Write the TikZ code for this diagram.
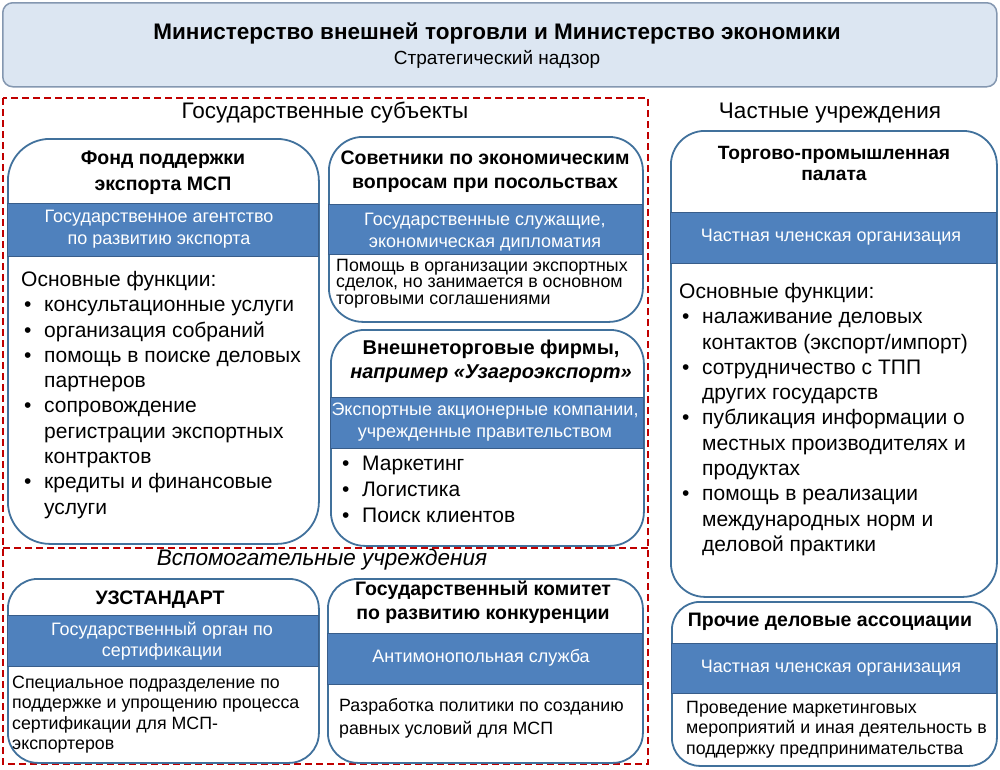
\documentclass[tikz,border=0pt]{standalone}
\usepackage{fontspec}
\setmainfont{Liberation Sans}
\newcommand{\fsz}[2]{\fontsize{#1}{#2}\selectfont}
\newcommand{\bul}{\makebox[20pt][l]{\textbullet}}
\newcommand{\ind}{\hspace*{20pt}}
\definecolor{topfill}{HTML}{DCE6F2}
\definecolor{topdraw}{HTML}{8497B0}
\definecolor{boxc}{HTML}{41719C}
\definecolor{bandc}{HTML}{4F81BD}
\definecolor{bandb}{HTML}{385D8A}
\definecolor{redd}{HTML}{C00000}
\tikzset{
  box/.style={draw=boxc, line width=1.8pt, rounded corners=#1, fill=white, anchor=north west, inner sep=0pt},
  box/.default=36pt,
  band/.style={draw=bandb, line width=1.2pt, fill=bandc, anchor=north west, inner sep=0pt},
  ttl/.style={font=\bfseries\fsz{19.5}{24}, align=center, inner sep=0pt},
  bandtxt/.style={text=white, font=\fsz{18}{21.5}, align=center, inner sep=0pt},
  body/.style={font=\fsz{21}{25.3}, align=left, anchor=north west, inner sep=0pt},
  small/.style={font=\fsz{17.8}{16.5}, align=left, anchor=north west, inner sep=0pt},
  mid/.style={font=\fsz{17.8}{20.2}, align=left, anchor=north west, inner sep=0pt},
  hdr/.style={font=\fsz{22.5}{26}, inner sep=0pt},
  reddash/.style={draw=redd, line width=2pt, dash pattern=on 7pt off 4pt}
}
\begin{document}
\begin{tikzpicture}[x=1pt,y=-1pt]
\useasboundingbox (0,0) rectangle (1000,769);
% top box
\node[draw=topdraw, fill=topfill, line width=1.5pt, rounded corners=10pt, anchor=north west, minimum width=994, minimum height=84, inner sep=0pt] (top) at (2,2) {};
\node[font=\bfseries\fsz{22.5}{26}, inner sep=0pt] (toptitle) at (497,33) {Министерство внешней торговли и Министерство экономики};
\node[font=\fsz{19}{22}, inner sep=0pt] (topsub) at (497,59) {Стратегический надзор};
% frames
\draw[reddash] (3,98) rectangle (648,764);
\draw[reddash] (3,548) -- (648,548);
\node[hdr] (govlbl) at (325,113) {Государственные субъекты};
\node[hdr] (privlbl) at (830,113) {Частные учреждения};
\node[hdr, font=\itshape\fsz{22.5}{26}] (auxlbl) at (322,560) {Вспомогательные учреждения};
% Fond
\node[box=42pt, minimum width=311, minimum height=405] (fond) at (7,138) {};
\node[band, minimum width=311, minimum height=53] (fondband) at (7,203) {};
\node[ttl, font=\bfseries\fsz{19.5}{26}] (fondttl) at (163,173) {Фонд поддержки\\экспорта МСП};
\node[bandtxt] (fondbt) at (159,229) {Государственное агентство\\по развитию экспорта};
\node[body] (fondbody) at (21,271) {Основные функции:\\
\hspace*{3pt}\bul консультационные услуги\\
\hspace*{3pt}\bul организация собраний\\
\hspace*{3pt}\bul помощь в поиске деловых\\
\hspace*{3pt}\ind партнеров\\
\hspace*{3pt}\bul сопровождение\\
\hspace*{3pt}\ind регистрации экспортных\\
\hspace*{3pt}\ind контрактов\\
\hspace*{3pt}\bul кредиты и финансовые\\
\hspace*{3pt}\ind услуги};
% Sovetniki
\node[box=34pt, minimum width=314, minimum height=185] (sov) at (328,136) {};
\node[band, minimum width=314, minimum height=50] (sovband) at (328,204) {};
\node[ttl] (sovttl) at (485,172) {Советники по экономическим\\вопросам при посольствах};
\node[bandtxt] (sovbt) at (485,232) {Государственные служащие,\\экономическая дипломатия};
\node[small] (sovbody) at (336,259) {Помощь в организации экспортных\\сделок, но занимается в основном\\торговыми соглашениями};
% Vneshnetorg
\node[box=34pt, minimum width=313, minimum height=216] (vt) at (330,329) {};
\node[band, minimum width=313, minimum height=51] (vtband) at (330,397) {};
\node[ttl, font=\bfseries\fsz{20}{24}] (vtttl) at (491,361) {Внешнеторговые фирмы,\\\itshape например «Узагроэкспорт»};
\node[bandtxt] (vtbt) at (485,422) {Экспортные акционерные компании,\\учрежденные правительством};
\node[body, font=\fsz{21}{26}] (vtbody) at (342,456) {\bul Маркетинг\\\bul Логистика\\\bul Поиск клиентов};
% Uzstandart
\node[box=30pt, minimum width=311, minimum height=184] (uz) at (7,578) {};
\node[band, minimum width=311, minimum height=51] (uzband) at (7,615) {};
\node[ttl] (uzttl) at (160,600) {УЗСТАНДАРТ};
\node[bandtxt] (uzbt) at (162,641) {Государственный орган по\\сертификации};
\node[mid] (uzbody) at (12,676) {Специальное подразделение по\\поддержке и упрощению процесса\\сертификации для МСП-\\экспортеров};
% Goskomitet
\node[box=30pt, minimum width=315, minimum height=184] (gk) at (327,578) {};
\node[band, minimum width=315, minimum height=51] (gkband) at (327,633) {};
\node[ttl] (gkttl) at (483,602) {Государственный комитет\\по развитию конкуренции};
\node[bandtxt] (gkbt) at (481,658) {Антимонопольная служба};
\node[mid, font=\fsz{17.8}{23}] (gkbody) at (339,698) {Разработка политики по созданию\\равных условий для МСП};
% TPP
\node[box=34pt, minimum width=326, minimum height=466] (tpp) at (670,130) {};
\node[band, minimum width=326, minimum height=51] (tppband) at (670,212) {};
\node[ttl, font=\bfseries\fsz{19.2}{21}] (tppttl) at (834,163) {Торгово-промышленная\\палата};
\node[bandtxt] (tppbt) at (831,237) {Частная членская организация};
\node[body] (tppbody) at (679,283) {Основные функции:\\
\hspace*{3pt}\bul налаживание деловых\\
\hspace*{3pt}\ind контактов (экспорт/импорт)\\
\hspace*{3pt}\bul сотрудничество с ТПП\\
\hspace*{3pt}\ind других государств\\
\hspace*{3pt}\bul публикация информации о\\
\hspace*{3pt}\ind местных производителях и\\
\hspace*{3pt}\ind продуктах\\
\hspace*{3pt}\bul помощь в реализации\\
\hspace*{3pt}\ind международных норм и\\
\hspace*{3pt}\ind деловой практики};
% Prochie
\node[box=28pt, minimum width=325, minimum height=164] (pr) at (671,601) {};
\node[band, minimum width=325, minimum height=50] (prband) at (671,643) {};
\node[ttl] (prttl) at (830,622) {Прочие деловые ассоциации};
\node[bandtxt] (prbt) at (831,668) {Частная членская организация};
\node[mid, font=\fsz{17.8}{20.5}] (prbody) at (686,701) {Проведение маркетинговых\\мероприятий и иная деятельность в\\поддержку предпринимательства};
\end{tikzpicture}
\end{document}
